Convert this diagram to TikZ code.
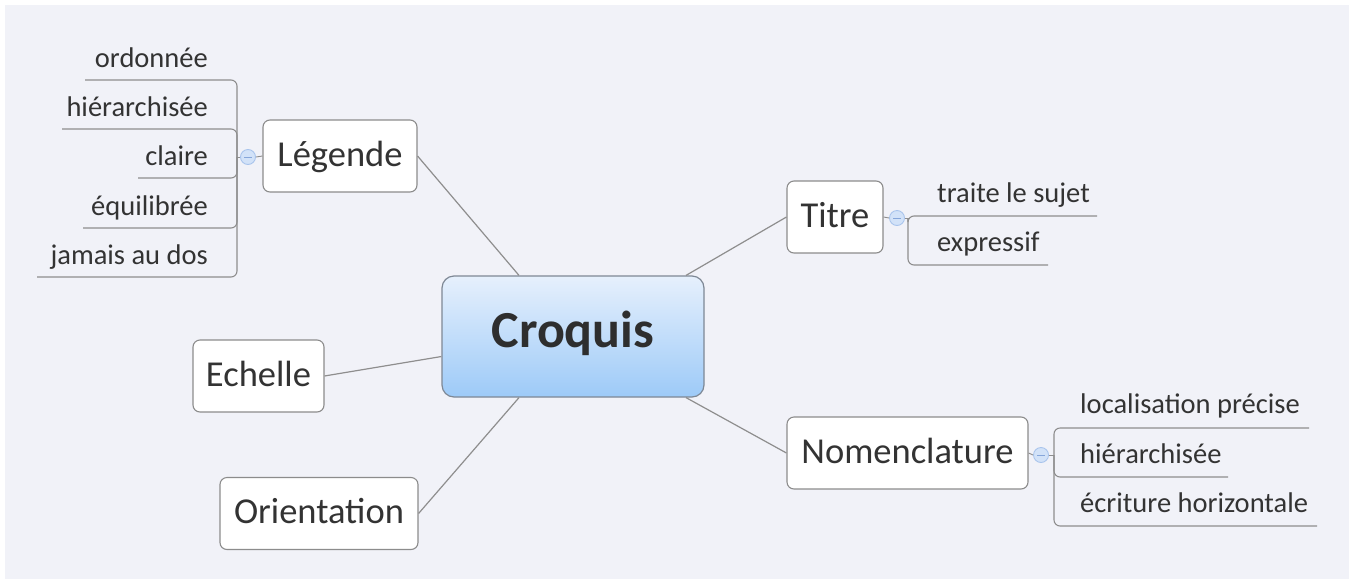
\documentclass[tikz,border=0pt]{standalone}
\usepackage{fontspec}
\setmainfont{Carlito}
\begin{document}
\begin{tikzpicture}[x=1pt,y=-1pt,
  topicbox/.style={draw=boxgray, line width=1.1pt, fill=white, rounded corners=7pt,
    font=\fontsize{36.5}{40}\selectfont, text=txtgray, inner sep=0pt,
    minimum height=72pt, text height=27pt, text depth=7pt},
  sublabel/.style={font=\fontsize{28.5}{31}\selectfont, text=txtgray, inner sep=0pt},
  conn/.style={draw=linegray, line width=1.2pt},
  branch/.style={draw=linegray, line width=1.1pt, rounded corners=6pt},
  collapse/.style={circle, draw=circblue, fill=circfill, line width=0.9pt,
    minimum size=15pt, inner sep=0pt}
]
\definecolor{bg}{HTML}{F1F2F8}
\definecolor{boxgray}{HTML}{8C8C8C}
\definecolor{linegray}{HTML}{8E8E8E}
\definecolor{txtgray}{HTML}{333333}
\definecolor{circblue}{HTML}{A9C4EC}
\definecolor{circfill}{HTML}{D2E2F8}
\definecolor{minusblue}{HTML}{86A6DA}
\definecolor{croqtop}{HTML}{E6F0FC}
\definecolor{croqbot}{HTML}{9DCAF8}
\definecolor{croqborder}{HTML}{7E8895}

\useasboundingbox (0,0) rectangle (1349,579);
\fill[white] (0,0) rectangle (1349,579);
\fill[bg] (5,5) rectangle (1349,579);

% central node
\node[draw=croqborder, line width=1.2pt, rounded corners=12pt,
  top color=croqtop, bottom color=croqbot,
  minimum width=262pt, minimum height=121pt, inner sep=0pt,
  font=\bfseries\fontsize{52}{56}\selectfont, text=txtgray!90!black,
  text height=31pt, text depth=10pt] (cro) at (573,336.5) {Croquis};

% main topics
\node[topicbox, minimum width=154pt] (leg) at (340,156) {Légende};
\node[topicbox, minimum width=96pt] (tit) at (835,217) {Titre};
\node[topicbox, minimum width=131pt] (ech) at (258.5,376) {Echelle};
\node[topicbox, minimum width=198pt] (ori) at (319,513.5) {Orientation};
\node[topicbox, minimum width=241pt] (nom) at (907.5,453) {Nomenclature};

% connectors from center
\draw[conn] (leg.east) -- ([xshift=-54pt]cro.north);
\draw[conn] (tit.west) -- ([xshift=113pt]cro.north);
\draw[conn] (ech.east) -- ([yshift=-20pt]cro.west);
\draw[conn] (ori.east) -- ([xshift=-54pt]cro.south);
\draw[conn] (nom.west) -- ([xshift=113pt]cro.south);

% ---- Légende subtopics
\coordinate (lj) at (237,157);
\coordinate (l1) at (85,80);
\coordinate (l2) at (62,129);
\coordinate (l3) at (138,178);
\coordinate (l4) at (83,228);
\coordinate (l5) at (37,277);
\foreach \c in {l1,l2,l3,l4,l5}{
  \draw[branch] (lj) -- (lj |- \c) -- (\c);
}
\node[collapse] (lc) at (248,157) {};
\draw[conn, line width=0.9pt] (leg.west) -- (lc.east);
\draw[conn, line width=0.9pt] (lc.west) -- (lj);
\draw[minusblue, line width=1pt] ([xshift=-4pt]lc.center) -- ([xshift=4pt]lc.center);

\node[sublabel, anchor=base east] (t1) at (208,67) {ordonnée};
\node[sublabel, anchor=base east] (t2) at (208,116) {hiérarchisée};
\node[sublabel, anchor=base east] (t3) at (208,165) {claire};
\node[sublabel, anchor=base east] (t4) at (208,215) {équilibrée};
\node[sublabel, anchor=base east] (t5) at (208,264) {jamais au dos};

% ---- Titre subtopics
\node[collapse] (tc) at (897,218) {};
\coordinate (tj) at (908,218);
\coordinate (r1) at (1097,216);
\coordinate (r2) at (1048,265);
\draw[branch] (tj) -- (tj |- r1) -- (r1);
\draw[branch] (tj) -- (tj |- r2) -- (r2);
\draw[conn, line width=0.9pt] (tit.east) -- (tc.west);
\draw[conn, line width=0.9pt] (tc.east) -- (tj);
\draw[minusblue, line width=1pt] ([xshift=-4pt]tc.center) -- ([xshift=4pt]tc.center);
\node[sublabel, anchor=base west] (s1) at (937,202) {traite le sujet};
\node[sublabel, anchor=base west] (s2) at (937,251) {expressif};

% ---- Nomenclature subtopics
\node[collapse] (nc) at (1041,455) {};
\coordinate (nj) at (1054,455);
\coordinate (n1) at (1309,428);
\coordinate (n2) at (1228,477);
\coordinate (n3) at (1317,526);
\foreach \c in {n1,n2,n3}{
  \draw[branch] (nj) -- (nj |- \c) -- (\c);
}
\draw[conn, line width=0.9pt] (nom.east) -- (nc.west);
\draw[conn, line width=0.9pt] (nc.east) -- (nj);
\draw[minusblue, line width=1pt] ([xshift=-4pt]nc.center) -- ([xshift=4pt]nc.center);
\node[sublabel, anchor=base west] (m1) at (1080,413) {localisation précise};
\node[sublabel, anchor=base west] (m2) at (1080,463) {hiérarchisée};
\node[sublabel, anchor=base west] (m3) at (1080,512) {écriture horizontale};
\end{tikzpicture}
\end{document}
